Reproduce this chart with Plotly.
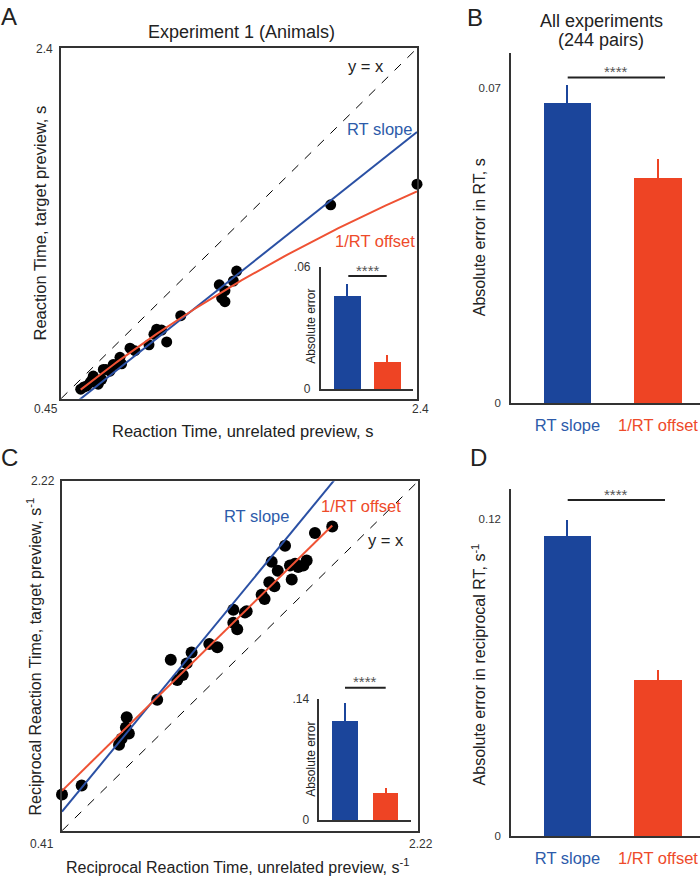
import numpy as np
import plotly.graph_objects as go

W, H = 700, 883

# ---------------- data ----------------
# Panel A: RT (s), unrelated preview (x) vs target preview (y)
A_x = [0.558, 0.575, 0.591, 0.609, 0.618, 0.627, 0.642, 0.654, 0.673, 0.682, 0.696, 0.718,
       0.736, 0.755, 0.773, 0.782, 0.828, 0.855, 0.932, 0.959, 0.974, 1.001, 1.029, 1.106,
       1.317, 1.330, 1.348, 1.348, 1.394, 1.412, 1.927, 2.400]
A_y = [0.503, 0.515, 0.521, 0.540, 0.552, 0.576, 0.539, 0.531, 0.558, 0.613, 0.613, 0.603,
       0.640, 0.640, 0.680, 0.644, 0.731, 0.717, 0.750, 0.808, 0.837, 0.832, 0.766, 0.912,
       1.084, 1.010, 1.051, 0.990, 1.105, 1.160, 1.529, 1.644]
A_range = [0.45, 2.4]

# Panel C: reciprocal RT (1/s)
C_x = [0.410, 0.510, 0.700, 0.713, 0.735, 0.739, 0.750, 0.894, 0.963, 0.996, 1.024, 1.044,
       1.069, 1.159, 1.200, 1.281, 1.281, 1.301, 1.340, 1.349, 1.425, 1.440, 1.464, 1.490,
       1.476, 1.507, 1.544, 1.569, 1.578, 1.595, 1.611, 1.637, 1.654, 1.696, 1.784]
C_y = [0.598, 0.644, 0.856, 0.886, 0.945, 0.998, 0.914, 1.088, 1.296, 1.191, 1.217, 1.277,
       1.333, 1.377, 1.361, 1.555, 1.488, 1.454, 1.540, 1.547, 1.632, 1.610, 1.697, 1.677,
       1.803, 1.757, 1.886, 1.784, 1.712, 1.793, 1.776, 1.784, 1.810, 1.952, 1.986]
C_range = [0.41, 2.22]

# fitted model parameters
rt_slope = 0.806      # RT slope model: y = k * x
rt_offset = 0.207     # 1/RT offset model: 1/y = 1/x + c

categories = ["RT slope", "1/RT offset"]
B_means = [0.0666, 0.0499]
B_err = [0.0041, 0.0043]
D_means = [0.1134, 0.0590]
D_err = [0.0062, 0.0037]
Ai_means = [0.0459, 0.0132]
Ai_err = [0.0056, 0.0034]
Ci_means = [0.1140, 0.0308]
Ci_err = [0.0210, 0.0065]

# ---------------- style ----------------
FONT = "Arial, Liberation Sans, Helvetica, sans-serif"
BAR_BLUE = "#1B459B"
BAR_RED = "#EE4424"
LINE_BLUE = "#2A50A4"
LINE_RED = "#EF5234"
TXT_BLUE = "#2D5BAA"
TXT_RED = "#EE4A2A"
AX = "#333333"


def fx(p):
    return p / W


def fy(p):
    return 1 - p / H


def dom(x0, x1, y0, y1):
    return [fx(x0), fx(x1)], [fy(y1), fy(y0)]


fig = go.Figure()

# ---------------- Panel A ----------------
fig.add_trace(go.Scatter(x=A_x, y=A_y, mode="markers", cliponaxis=False,
                         marker=dict(color="black", size=11), xaxis="x", yaxis="y",
                         showlegend=False, hoverinfo="skip"))
fig.add_trace(go.Scatter(x=A_range, y=A_range, mode="lines",
                         line=dict(color="black", width=1, dash="dash"),
                         xaxis="x", yaxis="y", showlegend=False))
xa = np.array(A_range)
fig.add_trace(go.Scatter(x=xa, y=rt_slope * xa, mode="lines",
                         line=dict(color=LINE_BLUE, width=2), xaxis="x", yaxis="y",
                         showlegend=False))
xr = np.linspace(min(A_x), max(A_x), 120)
fig.add_trace(go.Scatter(x=xr, y=1 / (1 / xr + rt_offset), mode="lines",
                         line=dict(color=LINE_RED, width=2), xaxis="x", yaxis="y",
                         showlegend=False))

# ---------------- Panel C ----------------
fig.add_trace(go.Scatter(x=C_x, y=C_y, mode="markers", cliponaxis=False,
                         marker=dict(color="black", size=12), xaxis="x4", yaxis="y4",
                         showlegend=False, hoverinfo="skip"))
fig.add_trace(go.Scatter(x=C_range, y=C_range, mode="lines",
                         line=dict(color="black", width=1, dash="dash"),
                         xaxis="x4", yaxis="y4", showlegend=False))
xc = np.array(C_range)
fig.add_trace(go.Scatter(x=xc, y=xc / rt_slope, mode="lines",
                         line=dict(color=LINE_BLUE, width=2), xaxis="x4", yaxis="y4",
                         showlegend=False))
xcr = np.array([min(C_x), max(C_x)])
fig.add_trace(go.Scatter(x=xcr, y=xcr + rt_offset, mode="lines",
                         line=dict(color=LINE_RED, width=2), xaxis="x4", yaxis="y4",
                         showlegend=False))


# ---------------- bars ----------------
def add_bars(means, errs, xaxis, yaxis, width, thick):
    for cat, m, e, col in zip(categories, means, errs, [BAR_BLUE, BAR_RED]):
        fig.add_trace(go.Bar(x=[cat], y=[m], width=width, marker=dict(color=col, line=dict(width=0)),
                             error_y=dict(type="data", array=[e], arrayminus=[0], symmetric=False,
                                          width=0, thickness=thick, color=col),
                             xaxis=xaxis, yaxis=yaxis, showlegend=False))


add_bars(Ai_means, Ai_err, "x2", "y2", 0.685, 2)
add_bars(B_means, B_err, "x3", "y3", 0.52, 2)
add_bars(Ci_means, Ci_err, "x5", "y5", 0.62, 2)
add_bars(D_means, D_err, "x6", "y6", 0.52, 2)

# ---------------- axes ----------------
box = dict(showline=True, mirror=True, linecolor=AX, linewidth=1.5, showgrid=False,
           zeroline=False, showticklabels=False, ticks="")

dA = dom(61, 417, 42, 398)
dAi = dom(320.7, 413, 264, 388.3)
dB = dom(511, 700, 47, 402.5)
dC = dom(62, 418, 482, 837)
dCi = dom(319.3, 410.7, 703.3, 826)
dD = dom(511, 700, 490, 842.5)

colored = ['<span style="color:%s">%s</span>' % (TXT_BLUE, categories[0]),
           '<span style="color:%s">%s</span>' % (TXT_RED, categories[1])]


def bar_x(domain, rng, labels):
    d = dict(domain=domain, range=rng, showline=True, linecolor=AX, linewidth=1.5,
             showgrid=False, zeroline=False, fixedrange=True, type="category")
    if labels:
        d.update(tickvals=categories, ticktext=colored, ticks="outside", ticklen=6,
                 tickcolor="rgba(0,0,0,0)", tickfont=dict(size=16.5, family=FONT))
    else:
        d.update(showticklabels=False, ticks="")
    return d


def bar_y(domain, rng, tv, tt, size=12):
    return dict(domain=domain, range=rng, showline=True, linecolor=AX, linewidth=1.5,
                showgrid=False, zeroline=False, ticks="outside", ticklen=6,
                tickcolor="rgba(0,0,0,0)", tickvals=tv, ticktext=tt,
                tickfont=dict(size=size, color=AX, family=FONT))


fig.update_layout(
    width=W, height=H, autosize=False,
    margin=dict(l=0, r=0, t=0, b=0),
    paper_bgcolor="white", plot_bgcolor="rgba(0,0,0,0)",
    font=dict(family=FONT, color="#222"),
    bargap=0,
    xaxis=dict(domain=dA[0], range=A_range, **box),
    yaxis=dict(domain=dA[1], range=A_range, **box),
    xaxis2=bar_x(dAi[0], [-0.6575, 1.65], False),
    yaxis2=bar_y(dAi[1], [0, 0.06], [0, 0.06], ["0", ".06"], 12),
    xaxis3=bar_x(dB[0], [-0.624, 1.464], True),
    yaxis3=bar_y(dB[1], [0, 0.0777], [0, 0.07], ["0", "0.07"], 11.5),
    xaxis4=dict(domain=dC[0], range=C_range, **box),
    yaxis4=dict(domain=dC[1], range=C_range, **box),
    xaxis5=bar_x(dCi[0], [-0.635, 1.605], False),
    yaxis5=bar_y(dCi[1], [0, 0.14], [0, 0.14], ["0", ".14"], 12),
    xaxis6=bar_x(dD[0], [-0.624, 1.464], True),
    yaxis6=bar_y(dD[1], [0, 0.1312], [0, 0.12], ["0", "0.12"], 11.5),
)
for k in ["yaxis2", "yaxis3", "yaxis5", "yaxis6"]:
    fig.layout[k].anchor = "x" + k[-1]
for k in ["xaxis2", "xaxis3", "xaxis5", "xaxis6"]:
    fig.layout[k].anchor = "y" + k[-1]
fig.layout.yaxis4.anchor = "x4"
fig.layout.xaxis4.anchor = "y4"

# ---------------- annotations ----------------
ann = []


def text(x, y, s, size=16, color="#222", angle=0, xanchor="center", yanchor="middle"):
    ann.append(dict(x=fx(x), y=fy(y), xref="paper", yref="paper", text=s, showarrow=False,
                    font=dict(size=size, color=color, family=FONT), textangle=angle,
                    xanchor=xanchor, yanchor=yanchor))


# panel letters
text(9, 10, "A", 24)
text(475, 11, "B", 24)
text(9, 458, "C", 24)
text(478, 458, "D", 24)

# Panel A texts
text(241.5, 25, "Experiment 1 (Animals)", 18)
text(366, 60, "y = x", 16.5)
text(380, 124, "RT slope", 16.5, TXT_BLUE)
text(375, 238, "1/RT offset", 16.5, TXT_RED)
text(55, 43, "2.4", 12, AX, xanchor="right")
text(60, 408, "0.45", 12, AX, xanchor="right")
text(420, 408, "2.4", 12, AX)
text(242.5, 431, "Reaction Time, unrelated preview, s", 16.5)
text(40, 220, "Reaction Time, target preview, s", 16.5, angle=-90)
text(311, 325, "Absolute error", 12, angle=-90)

# Panel B texts
text(601, 14, "All experiments", 18)
text(601, 34, "(244 pairs)", 18)
text(479, 234, "Absolute error in RT, s", 16, angle=-90)

# Panel C texts
text(57, 482, "2.22", 12, AX, xanchor="right")
text(56, 850, "0.41", 12, AX, xanchor="right")
text(421, 850, "2.22", 12, AX)
text(237, 873, "Reciprocal Reaction Time, unrelated preview, s<sup>-1</sup>", 16)
text(34, 660, "Reciprocal Reaction Time, target preview, s<sup>-1</sup>", 16, angle=-90)
text(256, 517, "RT slope", 16.5, TXT_BLUE)
text(361, 507, "1/RT offset", 16.5, TXT_RED)
text(386, 542, "y = x", 16.5)
text(311, 765, "Absolute error", 12, angle=-90)

# Panel D texts
text(479, 668, "Absolute error in reciprocal RT, s<sup>-1</sup>", 16, angle=-90)

# significance markers (line in paper coords + asterisks)
shapes = []


def sig(x0, x1, y, size=15):
    shapes.append(dict(type="line", xref="paper", yref="paper", x0=fx(x0), x1=fx(x1),
                       y0=fy(y), y1=fy(y), line=dict(color="#222", width=2)))
    text((x0 + x1) / 2, y - 6, "****", size, "#555")


sig(567.7, 665, 71.7, 15)
sig(567.7, 665, 501, 15)
sig(348.3, 386.7, 273.3, 15)
sig(345, 385.7, 691.7, 15)

fig.update_layout(annotations=ann, shapes=shapes)

fig.write_html("out.html", config={"displayModeBar": False},
               post_script="document.body.style.margin='0';document.body.style.overflow='hidden';")
